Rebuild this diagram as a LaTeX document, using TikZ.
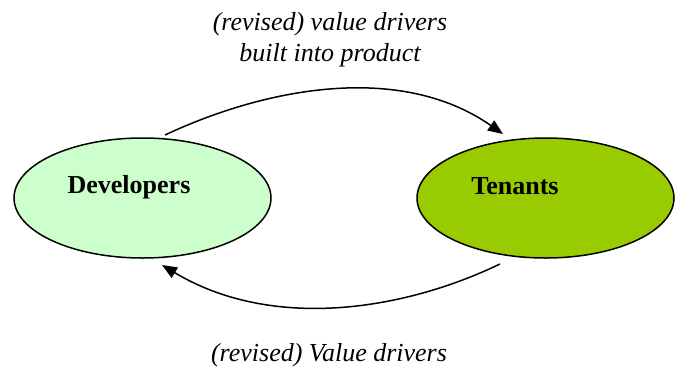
\documentclass[tikz,border=0pt]{standalone}
\usepackage{fontspec}
\setmainfont{Liberation Serif}
\usetikzlibrary{shapes.geometric,arrows.meta}
\definecolor{devfill}{HTML}{CCFFCC}
\definecolor{tenfill}{HTML}{99CC00}
\tikzset{
  party/.style={ellipse, draw=black, line width=1.5pt, minimum width=257pt, minimum height=120pt, inner sep=0pt},
  partytext/.style={font=\fontsize{26}{31}\selectfont\bfseries, inner sep=0pt},
  flowlabel/.style={font=\fontsize{26}{31}\selectfont\itshape, align=center, inner sep=0pt},
  flow/.style={line width=1.5pt, -{Triangle[length=15pt,width=12pt]}}
}
\begin{document}
\begin{tikzpicture}[x=1pt,y=-1pt]
\useasboundingbox (0,0) rectangle (680,370);
\node[party, fill=devfill] (dev) at (142.5,198) {};
\node[party, fill=tenfill] (ten) at (545.5,198) {};
\node[partytext] (devt) at (129,187) {Developers};
\node[partytext] (tent) at (515,186) {Tenants};
\node[flowlabel] (top) at (330,40) {(revised) value drivers\\built into product};
\node[flowlabel] (bot) at (329,355) {(revised) Value drivers};
\coordinate (a1) at (165,135);
\coordinate (a2) at (503,134);
\coordinate (b1) at (500,264);
\coordinate (b2) at (162,265);
\draw[flow] (a1) .. controls (265,88) and (400,62) .. (a2);
\draw[flow] (b1) .. controls (400,312) and (270,330) .. (b2);
\end{tikzpicture}
\end{document}
